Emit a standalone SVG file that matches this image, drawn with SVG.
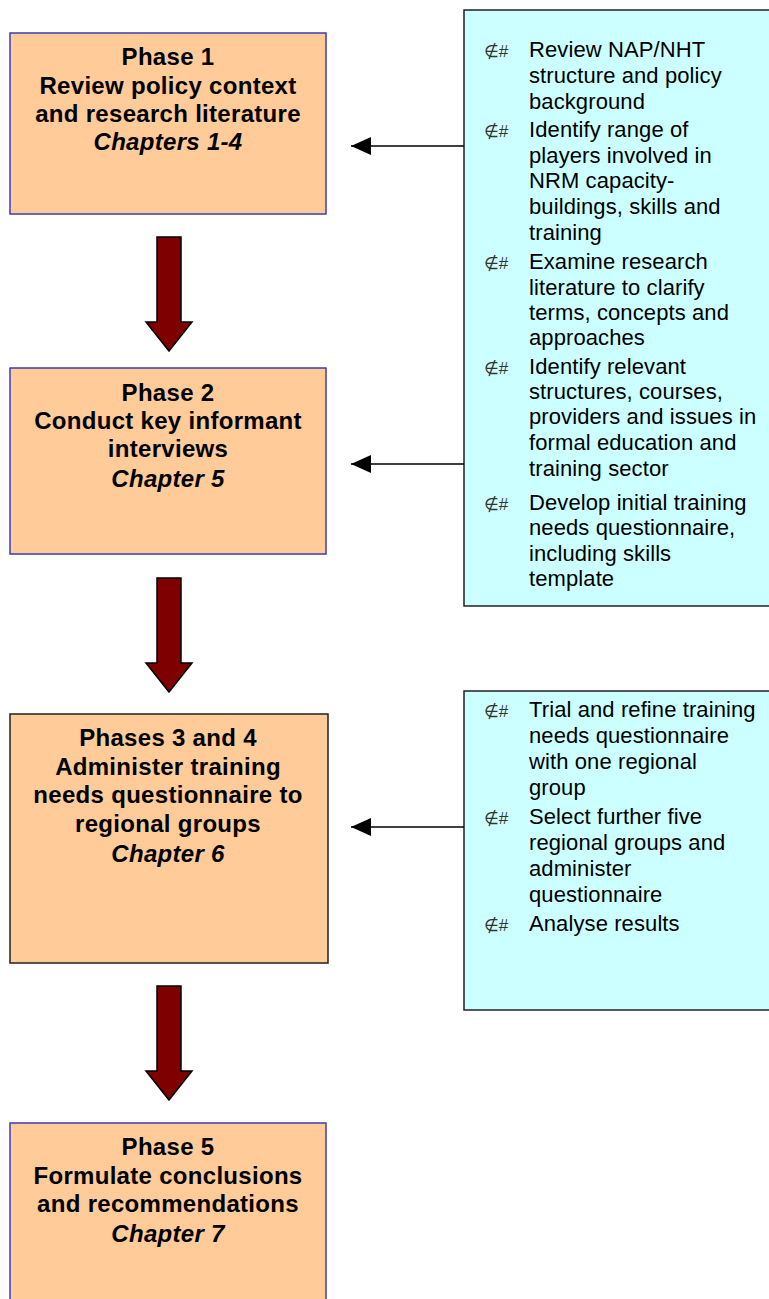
<svg xmlns="http://www.w3.org/2000/svg" width="769" height="1299" viewBox="0 0 769 1299">
<defs>
<style>
.phase{fill:#FFCC99;stroke:#3C3CB4;stroke-width:1.5}
.phaseDark{fill:#FFCC99;stroke:#222;stroke-width:1.5}
.note{fill:#CCFFFF;stroke:#222;stroke-width:1.5}
.bt{font-family:"Liberation Sans",Arial,sans-serif;font-weight:bold;font-size:24px;letter-spacing:0.3px;text-anchor:middle;fill:#000}
.bi{font-style:italic}
.nt{font-family:"Liberation Sans",Arial,sans-serif;font-size:22px;letter-spacing:0.1px;fill:#000}
.bul{font-family:"Liberation Sans","DejaVu Sans",sans-serif;font-size:17px;fill:#333}
.conn{stroke:#000;stroke-width:1.5;fill:none}
.down{fill:#7F0000;stroke:#000;stroke-width:1.5;stroke-linejoin:miter}
</style>
<marker id="ah" markerWidth="20" markerHeight="18" refX="20" refY="9" orient="auto" markerUnits="userSpaceOnUse">
<path d="M0,0 L20,9 L0,18 Z" fill="#000"/>
</marker>
</defs>
<rect width="769" height="1299" fill="#fff"/>

<g id="phase1">
<rect class="phase" x="10" y="33" width="316" height="181"/>
<text class="bt" x="168" y="65">Phase 1</text>
<text class="bt" x="168" y="94">Review policy context</text>
<text class="bt" x="168" y="122">and research literature</text>
<text class="bt bi" x="168" y="150">Chapters 1-4</text>
</g>

<g id="phase2">
<rect class="phase" x="10" y="368" width="316" height="186"/>
<text class="bt" x="168" y="401">Phase 2</text>
<text class="bt" x="168" y="429">Conduct key informant</text>
<text class="bt" x="168" y="457">interviews</text>
<text class="bt bi" x="168" y="487">Chapter 5</text>
</g>

<g id="phase34">
<rect class="phaseDark" x="10" y="714" width="318" height="249"/>
<text class="bt" x="168" y="746">Phases 3 and 4</text>
<text class="bt" x="168" y="775">Administer training</text>
<text class="bt" x="168" y="803">needs questionnaire to</text>
<text class="bt" x="168" y="832">regional groups</text>
<text class="bt bi" x="168" y="862">Chapter 6</text>
</g>

<g id="phase5">
<rect class="phase" x="10" y="1123" width="316" height="190"/>
<text class="bt" x="168" y="1155">Phase 5</text>
<text class="bt" x="168" y="1184">Formulate conclusions</text>
<text class="bt" x="168" y="1212">and recommendations</text>
<text class="bt bi" x="168" y="1242">Chapter 7</text>
</g>

<g id="notes1">
<rect class="note" x="464" y="10" width="310" height="596"/>
<text class="bul" x="484" y="57">∉#</text>
<text class="nt" x="529" y="57">Review NAP/NHT</text>
<text class="nt" x="529" y="83">structure and policy</text>
<text class="nt" x="529" y="109">background</text>
<text class="bul" x="484" y="137">∉#</text>
<text class="nt" x="529" y="137">Identify range of</text>
<text class="nt" x="529" y="163">players involved in</text>
<text class="nt" x="529" y="188">NRM capacity-</text>
<text class="nt" x="529" y="214">buildings, skills and</text>
<text class="nt" x="529" y="240">training</text>
<text class="bul" x="484" y="269">∉#</text>
<text class="nt" x="529" y="269">Examine research</text>
<text class="nt" x="529" y="295">literature to clarify</text>
<text class="nt" x="529" y="320">terms, concepts and</text>
<text class="nt" x="529" y="345">approaches</text>
<text class="bul" x="484" y="374">∉#</text>
<text class="nt" x="529" y="374">Identify relevant</text>
<text class="nt" x="529" y="399">structures, courses,</text>
<text class="nt" x="529" y="424">providers and issues in</text>
<text class="nt" x="529" y="450">formal education and</text>
<text class="nt" x="529" y="476">training sector</text>
<text class="bul" x="484" y="510">∉#</text>
<text class="nt" x="529" y="510">Develop initial training</text>
<text class="nt" x="529" y="535">needs questionnaire,</text>
<text class="nt" x="529" y="561">including skills</text>
<text class="nt" x="529" y="586">template</text>
</g>

<g id="notes2">
<rect class="note" x="464" y="691" width="310" height="319"/>
<text class="bul" x="484" y="717">∉#</text>
<text class="nt" x="529" y="717">Trial and refine training</text>
<text class="nt" x="529" y="743">needs questionnaire</text>
<text class="nt" x="529" y="769">with one regional</text>
<text class="nt" x="529" y="795">group</text>
<text class="bul" x="484" y="824">∉#</text>
<text class="nt" x="529" y="824">Select further five</text>
<text class="nt" x="529" y="850">regional groups and</text>
<text class="nt" x="529" y="876">administer</text>
<text class="nt" x="529" y="902">questionnaire</text>
<text class="bul" x="484" y="931">∉#</text>
<text class="nt" x="529" y="931">Analyse results</text>
</g>

<g id="connectors">
<line class="conn" x1="464" y1="146" x2="351" y2="146" marker-end="url(#ah)"/>
<line class="conn" x1="464" y1="464" x2="351" y2="464" marker-end="url(#ah)"/>
<line class="conn" x1="464" y1="827" x2="351" y2="827" marker-end="url(#ah)"/>
<path class="down" d="M157,237 H181 V322 H192 L169,351 L146,322 H157 Z"/>
<path class="down" d="M157,578 H181 V663 H192 L169,692 L146,663 H157 Z"/>
<path class="down" d="M157,986 H181 V1071 H192 L169,1100 L146,1071 H157 Z"/>
</g>
</svg>
